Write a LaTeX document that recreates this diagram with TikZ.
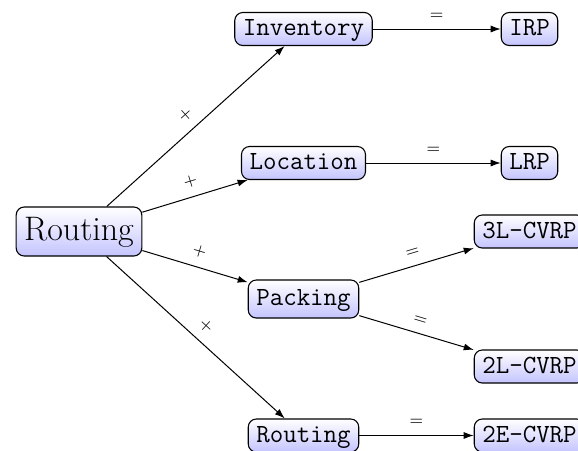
\documentclass[tikz,border=0pt]{standalone}
\usetikzlibrary{arrows.meta}
\definecolor{nodeblue}{RGB}{196,196,255}
\begin{document}
\begin{tikzpicture}[x=0.5pt,y=-0.5pt,
  box/.style={draw, line width=0.55pt, rounded corners=4pt, top color=white, bottom color=nodeblue,
    inner xsep=4pt, inner ysep=0pt, minimum height=16.5pt,
    font=\ttfamily\fontsize{13.1}{15}\selectfont, text height=9pt, text depth=2.5pt},
  rootbox/.style={box, font=\fontsize{17}{20}\selectfont, minimum height=24.5pt, text height=12pt, text depth=3.5pt},
  link/.style={-{Latex[length=5pt,width=3.5pt]}, line width=0.5pt},
  lab/.style={midway, above=4.6pt, sloped, inner sep=0pt, font=\fontsize{8.2}{10}\selectfont}
]
\useasboundingbox (0,0) rectangle (578,450);
\node[rootbox] (root) at (79,231.5) {Routing};
\node[box] (inv) at (303.5,29) {Inventory};
\node[box] (loc) at (303.5,163) {Location};
\node[box, minimum height=19pt] (pack) at (303.5,299) {Packing};
\node[box] (rout) at (303.5,435.5) {Routing};
\node[box] (irp) at (529.5,29) {IRP};
\node[box] (lrp) at (529.5,163) {LRP};
\node[box] (l3) at (529.5,231.5) {3L-CVRP};
\node[box] (l2) at (529.5,366.5) {2L-CVRP};
\node[box] (e2) at (529.5,435.5) {2E-CVRP};
\draw[link] (root) -- node[lab]{+} (inv);
\draw[link] (root) -- node[lab]{+} (loc);
\draw[link] (root) -- node[lab]{+} (pack);
\draw[link] (root) -- node[lab]{+} (rout);
\draw[link] (inv) -- node[lab]{=} (irp);
\draw[link] (loc) -- node[lab]{=} (lrp);
\draw[link] (pack) -- node[lab]{=} (l3);
\draw[link] (pack) -- node[lab]{=} (l2);
\draw[link] (rout) -- node[lab]{=} (e2);
\end{tikzpicture}
\end{document}
